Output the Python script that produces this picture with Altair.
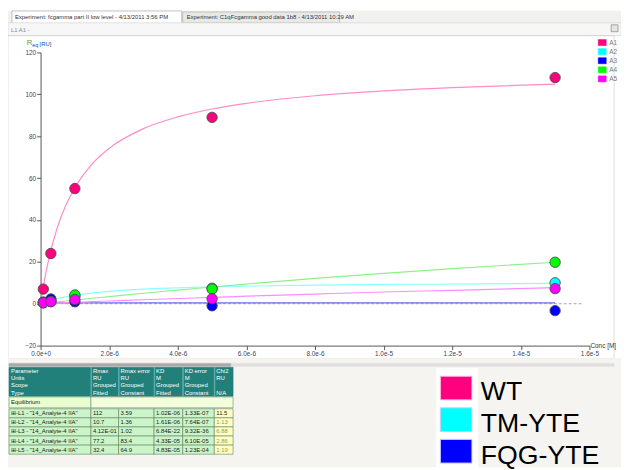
import altair as alt
import pandas as pd

# ---------------- data ----------------
SERIES = ["A1", "A2", "A3", "A4", "A5"]
POINT_COLORS = ["#ff007f", "#00ffff", "#0000ff", "#00ff00", "#ff00ff"]
LINE_COLORS = ["#ff8cc6", "#8cffff", "#6c6ce6", "#8cf08c", "#ff8cff"]

# concentrations in micromolar (converted to M below)
POINT_CONC_UM = [0.08, 0.3, 1.0, 5.0, 15.0]
PTS_A1 = [7, 24, 55, 89, 108]
PTS_A2 = [0.6, 1.6, 3.6, 7.4, 10.0]
PTS_A3 = [0.8, 2.3, 0.9, -1.0, -3.3]
PTS_A4 = [0.4, 1.0, 4.2, 7.0, 19.8]
PTS_A5 = [0.5, 1.0, 2.0, 2.4, 7.2]

CURVE_CONC_UM = [0, 0.1, 0.25, 0.5, 0.75, 1, 1.5, 2, 3, 4, 5, 6, 8, 10, 12, 15]
CUR_A1 = [0, 10, 22, 37, 47.5, 55.4, 66.7, 74.2, 83.6, 89.2, 93, 95.7, 99.3, 101.6, 103.2, 104.9]
CUR_A2 = [0, 0.6, 1.4, 2.5, 3.4, 4.1, 5.1, 5.9, 7.0, 7.6, 8.1, 8.4, 8.9, 9.2, 9.4, 9.7]
CUR_A3 = [0.41] * 16
CUR_A4 = [0, 0.18, 0.44, 0.88, 1.3, 1.74, 2.6, 3.4, 5.0, 6.5, 8.0, 9.4, 12.1, 14.5, 16.8, 19.8]
CUR_A5 = [0, 0.07, 0.17, 0.33, 0.5, 0.66, 0.99, 1.3, 1.9, 2.5, 3.0, 3.6, 4.6, 5.6, 6.4, 7.7]

ZERO_LINE_X = [0, 1.58e-5]
X_TICKS = [0, 2e-6, 4e-6, 6e-6, 8e-6, 1e-5, 1.2e-5, 1.4e-5, 1.6e-5]
Y_TICKS = [-20, 0, 20, 40, 60, 80, 100, 120]

TAB1 = "Experiment: fcgamma part II low level - 4/13/2011 3:56 PM"
TAB2 = "Experiment: C1qFcgamma good data 1b8 - 4/13/2011 10:29 AM"
PANEL_TITLE = "L1 A1 -"

TABLE_HEADER = [
    ["Parameter", "Rmax", "Rmax error", "KD", "KD error", "Chi2"],
    ["Units", "RU", "RU", "M", "M", "RU"],
    ["Scope", "Grouped", "Grouped", "Grouped", "Grouped", ""],
    ["Type", "Fitted", "Constant", "Fitted", "Constant", "N/A"],
]
TABLE_GROUP = "Equilibrium"
TABLE_ROWS = [
    ["\u229e-L1 - \"14_Analyte-4 IIA\"", "112", "3.59", "1.02E-06", "1.33E-07", "11.5"],
    ["\u229e-L2 - \"14_Analyte-4 IIA\"", "10.7", "1.36", "1.61E-06", "7.64E-07", "1.13"],
    ["\u229e-L3 - \"14_Analyte-4 IIA\"", "4.12E-01", "1.02", "6.84E-22", "9.32E-36", "6.88"],
    ["\u229e-L4 - \"14_Analyte-4 IIA\"", "77.2", "83.4", "4.33E-05", "6.10E-05", "2.86"],
    ["\u229e-L5 - \"14_Analyte-4 IIA\"", "32.4", "64.9", "4.83E-05", "1.23E-04", "1.19"],
]
BIG_LEGEND = ["WT", "TM-YTE", "FQG-YTE"]
BIG_LEGEND_COLORS = ["#ff007f", "#00ffff", "#0000ff"]

# ---------------- layout (screen pixels) ----------------
OX, OY = 41, 50          # plot-area origin on screen
W, H = 556, 297
FONT = "Liberation Sans"

pts = []
for s, vals in zip(SERIES, [PTS_A1, PTS_A2, PTS_A3, PTS_A4, PTS_A5]):
    for c, v in zip(POINT_CONC_UM, vals):
        pts.append({"series": s, "conc": c * 1e-6, "r": v})
pts = pd.DataFrame(pts)

cur = []
for s, vals in zip(SERIES, [CUR_A1, CUR_A2, CUR_A3, CUR_A4, CUR_A5]):
    for c, v in zip(CURVE_CONC_UM, vals):
        cur.append({"series": s, "conc": c * 1e-6, "r": v})
cur = pd.DataFrame(cur)

zero = pd.DataFrame({"conc": ZERO_LINE_X, "r": [0, 0]})

# decoration rectangles
rects = []
def R(x1, y1, x2, y2, fill, stroke=None, sw=0.6):
    rects.append({"x": x1 - OX, "x2": x2 - OX, "y": y1 - OY, "y2": y2 - OY,
                  "fill": fill, "stroke": stroke or fill, "sw": sw})

R(8, 8, 629, 20, "#f1f1ef")
R(12, 8, 184, 21, "#ffffff", "#9c9c9c")
R(185, 9, 344, 20, "#e8e8e5", "#a4a4a4")
R(8, 20, 629, 33, "#f7f7f7", "#cfcfcf")
R(8, 33, 622, 360, "transparent", "#c8c8c8")
R(8, 360, 629, 470, "#f5f4f0")
R(9, 365, 234, 368, "#a9a9a9")
R(234, 365, 622, 368, "#dedede")
R(619, 22, 626, 29, "#e4e4e4", "#777777")

COLS = [9, 92, 120, 156, 185, 217, 236]
HEAD_Y0, HEAD_RH = 369, 7.3
R(COLS[0], HEAD_Y0, COLS[-1], HEAD_Y0 + 4 * HEAD_RH, "#22807a", "#22807a")
for i in range(1, len(COLS) - 1):
    R(COLS[i], HEAD_Y0, COLS[i] + 0.6, HEAD_Y0 + 4 * HEAD_RH, "#6fb0ab")
EQ_Y0, EQ_Y1 = 399, 410
R(COLS[0], EQ_Y0, COLS[1], EQ_Y1, "#e9ffcf", "#6a8a6a")
R(COLS[1], EQ_Y0, COLS[-1], EQ_Y1, "#f4ffdc", "#6a8a6a")
ROW_Y0, ROW_H = 411, 9.2
for r in range(len(TABLE_ROWS)):
    for c in range(6):
        R(COLS[c], ROW_Y0 + r * ROW_H, COLS[c + 1], ROW_Y0 + (r + 1) * ROW_H,
          "#ffffc6" if c == 5 else "#cbf5c9", "#5f7f5f")

R(442, 370, 484, 470, "#ffffff")
for i, col in enumerate(BIG_LEGEND_COLORS):
    R(446, 378 + i * 32, 478, 402 + i * 32, col, "#ccccff" if i else "#ffc0e0", 1)

for i, col in enumerate(POINT_COLORS):
    R(606, 37 + i * 9.2, 614, 43 + i * 9.2, col)
rects = pd.DataFrame(rects)

# decoration texts
texts = []
def T(x, y, t, size, color):
    texts.append({"x": x - OX, "y": y - OY, "t": t, "size": size, "color": color})

T(15, 14, TAB1, 6, "#333333")
T(189, 14, TAB2, 6, "#333333")
T(11, 27, PANEL_TITLE, 6, "#8a8a8a")
for i, s in enumerate(SERIES):
    T(617, 40 + i * 9.2, s, 6.5, "#777777")
T(27, 40.5, "R", 8, "#6f9a2a")
T(32.5, 42, "eq", 5.5, "#2048b0")
T(40, 41, "[RU]", 6, "#2048b0")
T(598, 347, "Conc [M]", 6.5, "#333333")
for r, row in enumerate(TABLE_HEADER):
    for c, t in enumerate(row):
        if t:
            T(COLS[c] + 2, HEAD_Y0 + (r + 0.5) * HEAD_RH, t, 6, "#ffffff")
T(COLS[0] + 2, (EQ_Y0 + EQ_Y1) / 2, TABLE_GROUP, 6, "#222222")
for r, row in enumerate(TABLE_ROWS):
    for c, t in enumerate(row):
        col = "#222222"
        if c == 5 and r > 0:
            col = "#9a9a48"
        T(COLS[c] + 2, ROW_Y0 + (r + 0.5) * ROW_H, t, 6, col)
for i, t in enumerate(BIG_LEGEND):
    T(487, 394.5 + i * 32, t, 27, "#000000")
texts = pd.DataFrame(texts)

# ---------------- chart ----------------
xs = alt.Scale(domain=[0, 1.6e-5], nice=False, zero=False)
ys = alt.Scale(domain=[-20, 120], nice=False, zero=False)

x_axis = alt.Axis(values=X_TICKS, format=".1e", title=None, grid=False, tickSize=4,
                  labelFontSize=6.5, labelFont=FONT, labelColor="#3a4660",
                  domainColor="#555555", tickColor="#555555", labelPadding=1,
                  labelFlush=False, labelOverlap=False)
y_axis = alt.Axis(values=Y_TICKS, format="d", title=None, grid=False, tickSize=4,
                  labelFontSize=6.5, labelFont=FONT, labelColor="#3a4660",
                  domainColor="#555555", tickColor="#555555", labelPadding=1,
                  labelFlush=False, labelOverlap=False)

deco_rects = alt.Chart(rects).mark_rect().encode(
    x=alt.X("x:Q", scale=None, axis=None), x2="x2:Q",
    y=alt.Y("y:Q", scale=None, axis=None), y2="y2:Q",
    fill=alt.Fill("fill:N", scale=None, legend=None),
    stroke=alt.Stroke("stroke:N", scale=None, legend=None),
    strokeWidth=alt.StrokeWidth("sw:Q", scale=None, legend=None),
)

deco_text = alt.Chart(texts).mark_text(align="left", baseline="middle", font=FONT).encode(
    x=alt.X("x:Q", scale=None, axis=None),
    y=alt.Y("y:Q", scale=None, axis=None),
    text="t:N",
    size=alt.Size("size:Q", scale=None, legend=None),
    color=alt.Color("color:N", scale=None, legend=None),
)

zero_line = alt.Chart(zero).mark_line(color="#a8a8a8", strokeDash=[3, 2], strokeWidth=1).encode(
    x=alt.X("conc:Q", scale=xs, axis=x_axis),
    y=alt.Y("r:Q", scale=ys, axis=y_axis),
)

curves = alt.Chart(cur).mark_line(strokeWidth=1.2, interpolate="monotone").encode(
    x=alt.X("conc:Q", scale=xs, axis=None),
    y=alt.Y("r:Q", scale=ys, axis=None),
    color=alt.Color("series:N", scale=alt.Scale(domain=SERIES, range=LINE_COLORS), legend=None),
    detail="series:N",
)

points = alt.Chart(pts).mark_circle(size=110, opacity=1, stroke="#4a4a4a", strokeWidth=0.9).encode(
    x=alt.X("conc:Q", scale=xs, axis=None),
    y=alt.Y("r:Q", scale=ys, axis=None),
    color=alt.Color("series:N", scale=alt.Scale(domain=SERIES, range=POINT_COLORS), legend=None),
)

chart = alt.layer(deco_rects, deco_text, zero_line, curves, points).resolve_scale(
    x="independent", y="independent", color="independent", size="independent"
).properties(
    width=W, height=H,
    padding={"left": OX - 8, "top": OY - 8, "right": 621 - (OX - 8) - W, "bottom": 462 - (OY - 8) - H},
    autosize=alt.AutoSizeParams(type="none"),
    background="#ffffff",
).configure_view(stroke=None)

chart.save("out.html", embed_options={"renderer": "svg", "actions": False})
